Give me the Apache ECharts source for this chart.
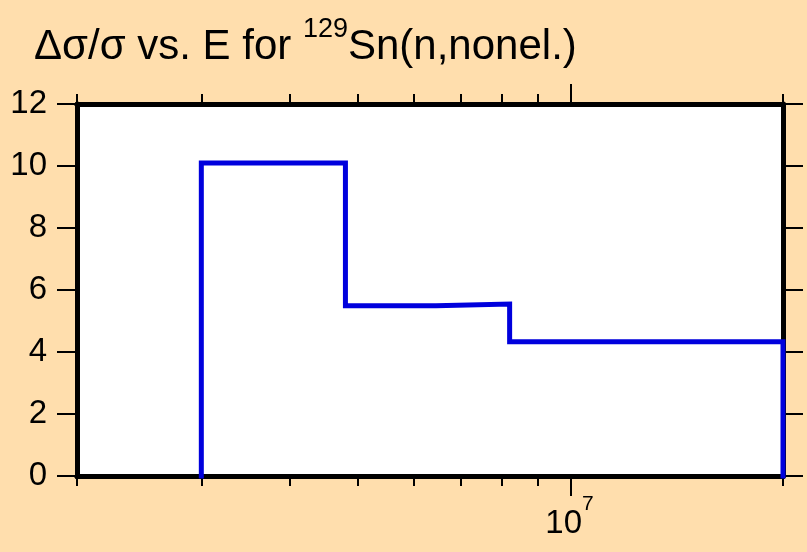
<!DOCTYPE html>
<html>
<head>
<meta charset="utf-8">
<script src="https://cdn.jsdelivr.net/npm/echarts@6/dist/echarts.min.js"></script>
<style>
html,body{margin:0;padding:0;background:#FFDEAD;}
#chart{width:807px;height:552px;}
</style>
</head>
<body>
<div id="chart"></div>
<script>
// Data
var binEdges = [3.0e6, 4.8e6, 6.45e6, 8.2e6, 2.0e7];
var binValues = [10.1, 5.49, 5.55, 4.33];
var xMin = 2e6, xMax = 2e7;
var minorTickValues = [2e6, 3e6, 4e6, 5e6, 6e6, 7e6, 8e6, 9e6, 2e7];
var majorTickValues = [1e7];
var yTicks = [0, 2, 4, 6, 8, 10, 12];

// Build step path from the bin arrays
var stepPoints = [[binEdges[0], 0]];
for (var i = 0; i < binValues.length; i++) {
  stepPoints.push([binEdges[i], binValues[i]]);
  stepPoints.push([binEdges[i + 1], binValues[i]]);
}
stepPoints.push([binEdges[binEdges.length - 1], 0]);

var FONT = "'Liberation Sans', Arial, sans-serif";
var NARROW = "'Liberation Sans Narrow', 'Arial Narrow', 'Liberation Sans', sans-serif";

var chart = echarts.init(document.getElementById('chart'), null, {renderer: 'canvas'});

function xAx(pos, ticks, len, withLabel) {
  return {
    type: 'log', logBase: 10, min: xMin, max: xMax, position: pos, gridIndex: 0, offset: 0,
    axisLine: {show: true, lineStyle: {color: '#000', width: 5}},
    axisTick: {show: true, inside: false, length: len, customValues: ticks, lineStyle: {color: '#000', width: 2}},
    axisLabel: withLabel ? {
      show: true, customValues: majorTickValues, margin: 18, padding: [0, 2, 0, 0],
      formatter: function (v) { return '{b|10}{s|' + Math.round(Math.log10(v)) + '}'; },
      rich: {
        b: {fontFamily: NARROW, fontSize: 33, color: '#000', verticalAlign: 'bottom'},
        s: {fontFamily: NARROW, fontSize: 21, color: '#000', verticalAlign: 'bottom', padding: [0, 0, 25, 0]}
      }
    } : {show: false},
    splitLine: {show: false}, minorTick: {show: false}, minorSplitLine: {show: false}
  };
}

function yAx(pos, showLabel) {
  return {
    type: 'value', min: 0, max: 12, interval: 2, position: pos, offset: 0,
    axisLine: {show: true, lineStyle: {color: '#000', width: 5}},
    axisTick: {show: true, inside: false, length: 20, lineStyle: {color: '#000', width: 2}},
    axisLabel: {show: showLabel, margin: 30, fontFamily: FONT, fontSize: 33, color: '#000'},
    splitLine: {show: false}
  };
}

chart.setOption({
  backgroundColor: '#FFDEAD',
  animation: false,
  title: {
    text: '{a|Δσ/σ vs. E for }{s|129}{a|Sn(n,nonel.)}',
    left: 34, top: 16, padding: 0,
    textStyle: {
      fontWeight: 'normal',
      rich: {
        a: {fontFamily: FONT, fontSize: 42, fontWeight: 'normal', color: '#000', verticalAlign: 'bottom'},
        s: {fontFamily: FONT, fontSize: 27, fontWeight: 'normal', color: '#000', verticalAlign: 'bottom', padding: [0, 0, 25, 0]}
      }
    }
  },
  grid: {left: 77, right: 24, top: 104, bottom: 76, containLabel: false, outerBoundsMode: 'none',
         show: true, backgroundColor: '#ffffff', borderWidth: 0},
  xAxis: [
    xAx('bottom', minorTickValues, 10, false),
    xAx('bottom', majorTickValues, 20, true),
    xAx('top', minorTickValues, 10, false),
    xAx('top', majorTickValues, 20, false)
  ],
  yAxis: [yAx('left', true), yAx('right', false)],
  series: [{
    type: 'line', xAxisIndex: 0, yAxisIndex: 0,
    data: stepPoints, showSymbol: false, clip: false,
    lineStyle: {color: '#0000dd', width: 5, cap: 'square', join: 'miter'},
    z: 1
  }]
});
</script>
</body>
</html>
